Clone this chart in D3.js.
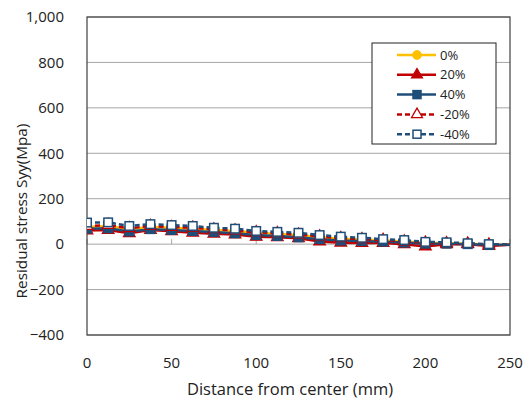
<!DOCTYPE html>
<html>
<head>
<meta charset="utf-8">
<script src="https://cdn.jsdelivr.net/npm/d3@7"></script>
<style>
  body { margin: 0; background: #fff; }
  svg { display: block; font-family: "Open Sans", sans-serif; }
</style>
</head>
<body>
<div id="chart"></div>
<script>
// distance from center (mm), one point every 12.5 mm
const distances = [0, 12.5, 25, 37.5, 50, 62.5, 75, 87.5, 100, 112.5, 125, 137.5, 150, 162.5, 175, 187.5, 200, 212.5, 225, 237.5, 250]

const s0 = [75, 80, 66, 76, 72, 68, 62, 58, 50, 45, 40, 30, 24, 20, 16, 12, 6, 4, 2, -2, -3]
const s20 = [60, 62, 48, 62, 57, 50, 46, 42, 32, 30, 26, 12, 6, 5, 5, 0, -10, 0, 0, -8, -3]
const s40 = [68, 70, 56, 66, 62, 58, 54, 48, 40, 36, 30, 22, 16, 14, 11, 7, 2, 2, 0, -4, -3]
const sm20 = [80, 84, 70, 80, 75, 72, 65, 60, 52, 48, 42, 34, 26, 22, 18, 12, 6, 4, 2, -2, -3]
const sm40 = [95, 96, 80, 88, 84, 80, 72, 68, 58, 54, 50, 40, 33, 28, 22, 18, 10, 8, 4, 0, -2]

const seriesNames = ["0%", "20%", "40%", "-20%", "-40%"]
const seriesValues = [s0, s20, s40, sm20, sm40]

const xTicks = [0, 50, 100, 150, 200, 250]
const yTicks = [-400, -200, 0, 200, 400, 600, 800, 1000]

const styles = [
  {color: "#FFC000", dash: null, marker: "circle", fill: "#FFC000"},
  {color: "#C00000", dash: null, marker: "triangle", fill: "#C00000"},
  {color: "#1F4E79", dash: null, marker: "square", fill: "#1F4E79"},
  {color: "#C00000", dash: "5,3", marker: "triangle", fill: "#fff"},
  {color: "#1F4E79", dash: "5,3", marker: "square", fill: "#fff"}
]

const width = 529, height = 400
const margin = {top: 17, right: 19, bottom: 65, left: 87}
const innerW = width - margin.left - margin.right
const innerH = height - margin.top - margin.bottom

const x = d3.scaleLinear().domain([0, 250]).range([0, innerW])
const y = d3.scaleLinear().domain([-400, 1000]).range([innerH, 0])

const svg = d3.select("#chart").append("svg")
  .attr("width", width)
  .attr("height", height)

const g = svg.append("g").attr("transform", `translate(${margin.left},${margin.top})`)

g.append("clipPath").attr("id", "clip")
  .append("rect").attr("width", innerW).attr("height", innerH)

// grid
g.append("g")
  .selectAll("line")
  .data(yTicks)
  .join("line")
  .attr("x1", 0).attr("x2", innerW)
  .attr("y1", d => y(d)).attr("y2", d => y(d))
  .attr("stroke", "#a6a6a6")
  .attr("stroke-width", 1)

// small ticks on the zero line
g.append("g")
  .selectAll("line")
  .data(xTicks)
  .join("line")
  .attr("x1", d => x(d)).attr("x2", d => x(d))
  .attr("y1", y(0)).attr("y2", y(0) - 5)
  .attr("stroke", "#a6a6a6")

// plot border
g.append("rect")
  .attr("width", innerW).attr("height", innerH)
  .attr("fill", "none")
  .attr("stroke", "#404040")
  .attr("stroke-width", 1.2)

// y tick labels
g.append("g")
  .selectAll("text")
  .data(yTicks)
  .join("text")
  .attr("x", -23)
  .attr("y", d => y(d))
  .attr("dy", "0.35em")
  .attr("text-anchor", "end")
  .attr("font-size", 15)
  .attr("fill", "#222")
  .text(d => d3.format(",")(d))

// x tick labels
g.append("g")
  .selectAll("text")
  .data(xTicks)
  .join("text")
  .attr("x", d => x(d))
  .attr("y", innerH + 28)
  .attr("dy", "0.35em")
  .attr("text-anchor", "middle")
  .attr("font-size", 15)
  .attr("fill", "#222")
  .text(d => d)

svg.append("text")
  .attr("x", 290)
  .attr("y", 389)
  .attr("dy", "0.35em")
  .attr("text-anchor", "middle")
  .attr("font-size", 16.5)
  .attr("fill", "#222")
  .text("Distance from center (mm)")

svg.append("text")
  .attr("transform", `translate(22,211) rotate(-90)`)
  .attr("dy", "0.35em")
  .attr("text-anchor", "middle")
  .attr("font-size", 15.3)
  .attr("fill", "#222")
  .text("Residual stress Syy(Mpa)")

function drawMarker(sel, type, st, size) {
  if (type === "circle") {
    sel.append("circle").attr("r", size * 0.55)
      .attr("fill", st.fill).attr("stroke", st.color).attr("stroke-width", 1)
  } else if (type === "square") {
    sel.append("rect")
      .attr("x", -size / 2).attr("y", -size / 2)
      .attr("width", size).attr("height", size)
      .attr("fill", st.fill).attr("stroke", st.color).attr("stroke-width", 1.5)
  } else {
    sel.append("path")
      .attr("d", d3.symbol(d3.symbolTriangle, size * size * 0.8)())
      .attr("fill", st.fill).attr("stroke", st.color).attr("stroke-width", 1.3)
  }
}

const line = d3.line().x(d => x(d.x)).y(d => y(d.y))
const plot = g.append("g").attr("clip-path", "url(#clip)")

seriesValues.forEach((vals, i) => {
  const st = styles[i]
  const pts = distances.map((d, j) => ({x: d, y: vals[j]}))
  plot.append("path")
    .datum(pts)
    .attr("fill", "none")
    .attr("stroke", st.color)
    .attr("stroke-width", 2.5)
    .attr("stroke-dasharray", st.dash)
    .attr("d", line)
  plot.append("g")
    .selectAll("g")
    .data(pts.filter(p => p.x < 250))
    .join("g")
    .attr("transform", d => `translate(${x(d.x)},${y(d.y)})`)
    .each(function () { drawMarker(d3.select(this), st.marker, st, 8.5) })
})

// legend
const legend = svg.append("g").attr("transform", "translate(372,43)")
legend.append("rect")
  .attr("width", 124).attr("height", 101)
  .attr("fill", "#fff")
  .attr("stroke", "#222")
  .attr("stroke-width", 1)

seriesNames.forEach((name, i) => {
  const st = styles[i]
  const row = legend.append("g").attr("transform", `translate(0,${12 + i * 19.8})`)
  row.append("line")
    .attr("x1", 25).attr("x2", 64)
    .attr("stroke", st.color)
    .attr("stroke-width", 2.5)
    .attr("stroke-dasharray", st.dash)
  const m = row.append("g").attr("transform", "translate(45,0)")
  drawMarker(m, st.marker, st, 8)
  row.append("text")
    .attr("x", 68)
    .attr("dy", "0.35em")
    .attr("font-size", 13)
    .attr("fill", "#222")
    .text(name)
})
</script>
</body>
</html>
